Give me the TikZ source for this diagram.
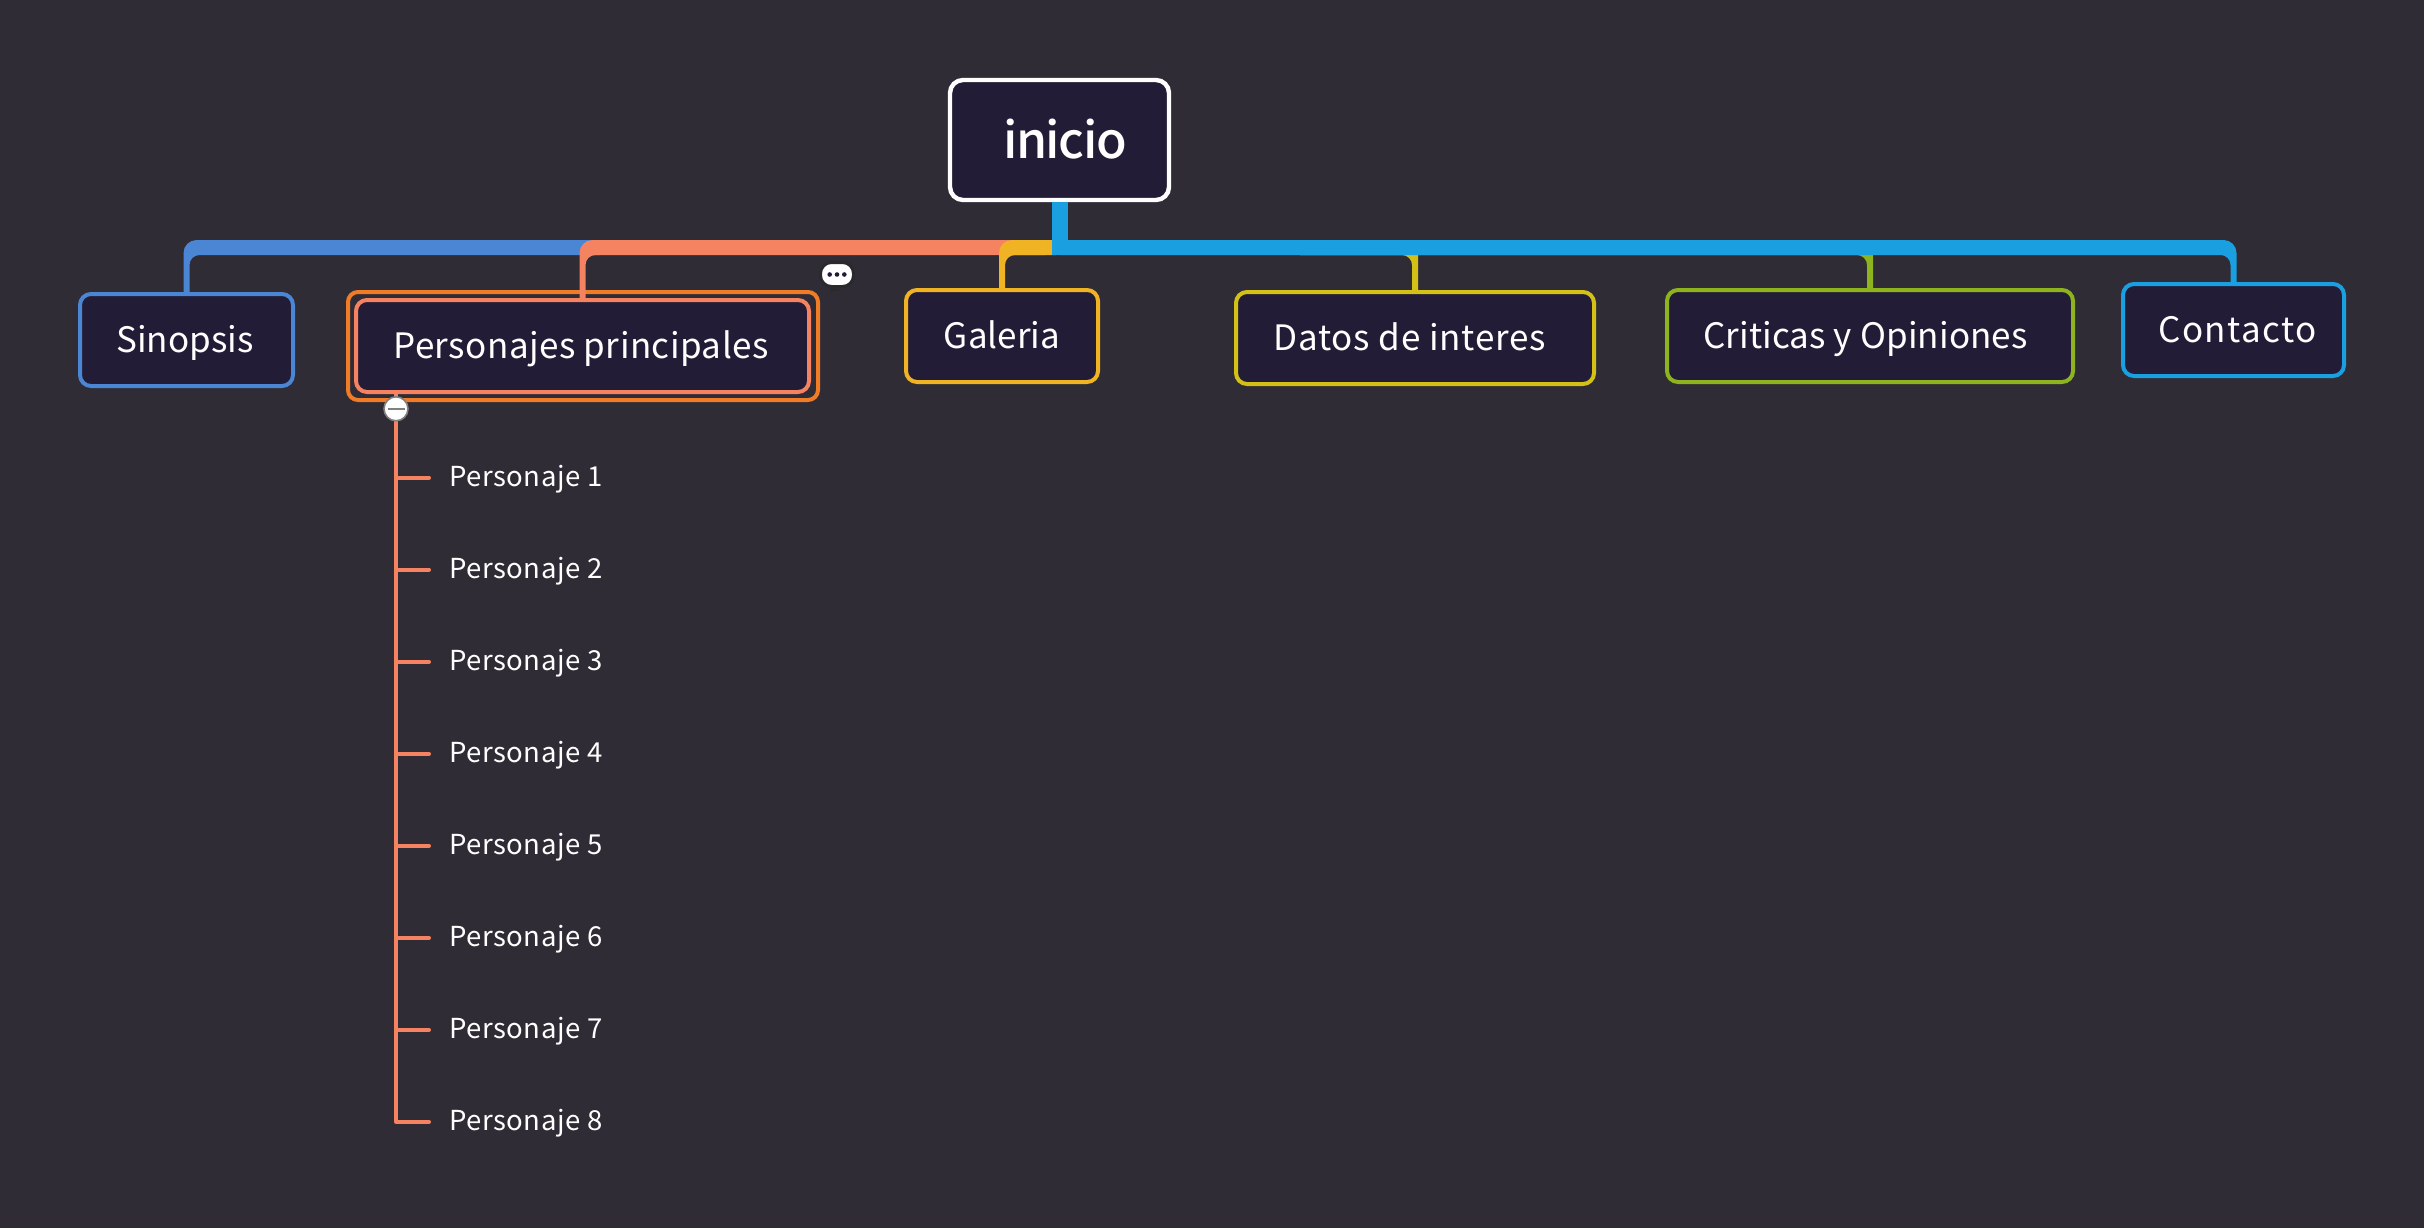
\documentclass[tikz,border=0pt]{standalone}
\usepackage{fontspec}
\setmainfont{Noto Sans CJK SC}
\newfontfamily\mediumfont{Noto Sans CJK SC Medium}
\usetikzlibrary{calc}
\definecolor{bgc}{HTML}{2F2C35}
\definecolor{nodec}{HTML}{231C36}
\definecolor{cblue}{HTML}{4A86D4}
\definecolor{csalmon}{HTML}{F58261}
\definecolor{corange}{HTML}{F07C28}
\definecolor{cgold}{HTML}{F0B323}
\definecolor{colive}{HTML}{D4C118}
\definecolor{cgreen}{HTML}{8DB31E}
\definecolor{ccyan}{HTML}{1A9FE0}
\definecolor{chalo}{HTML}{2A2A2C}
\tikzset{
  topic/.style={draw=#1,fill=nodec,line width=4pt,rounded corners=11pt,text=white,inner sep=0pt,
     font=\fontsize{35}{42}\selectfont,text height=32pt,text depth=8pt},
  leaf/.style={text=white,inner sep=0pt,anchor=west,font=\fontsize{27.5}{33}\selectfont\addfontfeature{LetterSpace=2}},
  subline/.style={draw=csalmon,line width=4pt,line cap=round},
}
% \tshift{horizontal shift of the text in its node}{letter spacing}{text}
\newcommand{\tshift}[3]{\addfontfeature{LetterSpace=#2}\kern#1pt #3}
\newcommand{\leftbranch}[3]{\fill[#1] ([xshift=-3pt]#2.north) [rounded corners=13pt] -- ([xshift=-3pt]#2.north |- bt) [sharp corners] -- (#3 |- bt) -- (#3 |- bb) [rounded corners=10pt] -- ([xshift=3pt]#2.north |- bb) [sharp corners] -- ([xshift=3pt]#2.north) -- cycle;}
\newcommand{\rightbranch}[3]{\fill[#1] ([xshift=3pt]#2.north) [rounded corners=13pt] -- ([xshift=3pt]#2.north |- bt) [sharp corners] -- (#3 |- bt) -- (#3 |- bb) [rounded corners=10pt] -- ([xshift=-3pt]#2.north |- bb) [sharp corners] -- ([xshift=-3pt]#2.north) -- cycle;}
\begin{document}
\begin{tikzpicture}[x=1pt,y=-1pt]
\useasboundingbox (0,0) rectangle (2424,1228);
\fill[bgc] (0,0) rectangle (2424,1228);
\coordinate (bt) at (0,240);
\coordinate (bb) at (0,255);
\node[draw=white,fill=nodec,line width=4.4pt,rounded corners=13pt,text=white,inner sep=0pt,minimum width=219pt,minimum height=120pt,
  font=\fontsize{50}{60}\selectfont\mediumfont,text height=38pt,text depth=2pt] (root) at (1059.5,140) {\tshift{11}{-3}{inicio}};
\node[topic=cblue,minimum width=213pt,minimum height=92pt] (sin) at (186.5,340) {\tshift{-3}{0}{Sinopsis}};
\node[draw=corange,line width=4pt,rounded corners=10pt,minimum width=470pt,minimum height=108pt] (frame) at (583,346) {};
\node[topic=csalmon,minimum width=453pt,minimum height=92pt] (per) at (582.5,346) {\tshift{-3}{1.3}{Personajes principales}};
\node[topic=cgold,minimum width=192pt,minimum height=92pt] (gal) at (1002,336) {Galeria};
\node[topic=colive,minimum width=358pt,minimum height=92pt] (dat) at (1415,338) {\tshift{-11}{2.3}{Datos de interes}};
\node[topic=cgreen,minimum width=406pt,minimum height=92pt] (cri) at (1870,336) {\tshift{-9}{0.4}{Criticas y Opiniones}};
\node[topic=ccyan,minimum width=221pt,minimum height=92pt] (con) at (2233.5,330) {\tshift{8}{4}{Contacto}};
% connectors
\coordinate (a) at (600,0);
\coordinate (b) at (1045,0);
\coordinate (c) at (1056,0);
\coordinate (d) at (1300,0);
\leftbranch{cblue}{sin}{a}
\leftbranch{csalmon}{per}{b}
\leftbranch{cgold}{gal}{c}
\rightbranch{colive}{dat}{d}
\rightbranch{cgreen}{cri}{d}
\rightbranch{ccyan}{con}{root.south}
\fill[ccyan] ([xshift=-8pt]root.south) -- ([xshift=8pt]root.south) -- ([xshift=8pt]root.south |- bb) -- ([xshift=-8pt]root.south |- bb) -- cycle;
% leaves
\coordinate (sp) at (396,408.8);
\coordinate (st) at (396,394);
\foreach \i in {1,...,8} {
  \node[leaf] (p\i) at (449,{479.2+92*(\i-1)}) {Personaje \i};
  \coordinate (t\i) at (429,{477.7+92*(\i-1)});
  \draw[subline] (t\i) -- (t\i -| sp);
}
\draw[subline,line cap=butt] (st) -- (t8 -| sp);
% collapse handle
\node[circle,draw=gray,fill=white,line width=1.6pt,minimum size=24pt,inner sep=0pt] (minus) at (sp) {};
\draw[gray,line width=2.2pt] ([xshift=-8.5pt]minus.center) -- ([xshift=8.5pt]minus.center);
% comment bubble
\fill[chalo] (829,286) -- (840,290) -- (831,292) -- cycle;
\node[fill=white,draw=chalo,line width=3pt,rounded corners=11pt,minimum width=33pt,minimum height=24pt,inner sep=0pt] (bubble) at (837,274.5) {};
\foreach \dx in {-7.3,0,7.3} \fill[nodec] ([xshift=\dx pt]bubble.center) circle (2.3pt);
\end{tikzpicture}
\end{document}
